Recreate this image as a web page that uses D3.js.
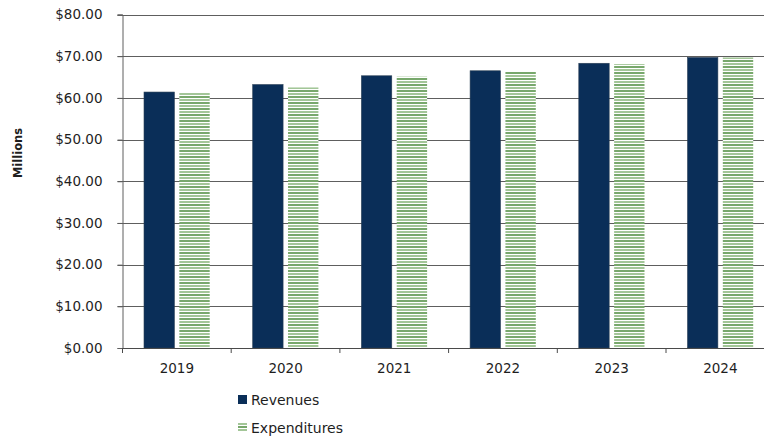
<!DOCTYPE html>
<html>
<head>
<meta charset="utf-8">
<script src="https://cdn.jsdelivr.net/npm/d3@7"></script>
<style>
  html, body { margin: 0; padding: 0; background: #fff; }
  svg { display: block; }
  text { font-family: "DejaVu Sans", Verdana, sans-serif; fill: #1e1e1e; }
</style>
</head>
<body>
<svg id="chart" width="764" height="438"></svg>
<script>
// Annual figures, in millions of dollars
const years = ["2019", "2020", "2021", "2022", "2023", "2024"];
const revenues = [61.4, 63.2, 65.3, 66.5, 68.3, 69.7];
const expenditures = [61.2, 62.5, 65.1, 66.4, 68.1, 69.7];
const seriesNames = ["Revenues", "Expenditures"];
const yTicks = [0, 10, 20, 30, 40, 50, 60, 70, 80];

(function () {
  const svg = d3.select("#chart");
  const W = 764;
  const plotLeft = 122.5, plotTop = 14.5, plotBottom = 348;
  const bandW = 108.7;
  const plotRight = plotLeft + bandW * years.length;

  // Horizontal stripe fill for the expenditures series
  const defs = svg.append("defs");
  const pat = defs.append("pattern")
    .attr("id", "stripes")
    .attr("patternUnits", "userSpaceOnUse")
    .attr("width", 6).attr("height", 6);
  pat.append("rect").attr("width", 6).attr("height", 6).attr("fill", "#ffffff");
  pat.append("rect").attr("y", 0).attr("width", 6).attr("height", 2).attr("fill", "#78a86c");
  pat.append("rect").attr("y", 3).attr("width", 6).attr("height", 2).attr("fill", "#a3c698");

  const y = d3.scaleLinear().domain([0, 80]).range([plotBottom, plotTop]);
  const x0 = d3.scaleBand().domain(years).range([plotLeft, plotRight]).paddingInner(0).paddingOuter(0);
  const x1 = d3.scaleBand().domain(seriesNames).range([21.5, bandW - 21.5]).paddingInner(0.14);

  // Gridlines
  svg.append("g")
    .selectAll("line")
    .data(yTicks.filter(d => d > 0))
    .join("line")
    .attr("x1", plotLeft - 5).attr("x2", W)
    .attr("y1", d => Math.round(y(d)) + 0.5).attr("y2", d => Math.round(y(d)) + 0.5)
    .attr("stroke", "#5e5e5e").attr("stroke-width", 1);

  // Y axis
  const yAxis = svg.append("g")
    .attr("transform", `translate(${plotLeft},0)`)
    .call(d3.axisLeft(y).tickValues(yTicks).tickSize(5).tickPadding(15)
      .tickFormat(d => "$" + d3.format(".2f")(d)));
  yAxis.select(".domain").attr("stroke", "#5e5e5e");
  yAxis.selectAll(".tick line").attr("stroke", "#5e5e5e");
  yAxis.selectAll(".tick text")
    .attr("font-size", 13.5).attr("font-family", "DejaVu Sans, sans-serif").attr("fill", "#1e1e1e");

  // Bars
  const groups = svg.append("g")
    .selectAll("g")
    .data(years.map((yr, i) => ({ yr, vals: [revenues[i], expenditures[i]] })))
    .join("g")
    .attr("transform", d => `translate(${x0(d.yr)},0)`);

  groups.selectAll("rect")
    .data(d => d.vals.map((v, j) => ({ key: seriesNames[j], v })))
    .join("rect")
    .attr("x", d => x1(d.key))
    .attr("width", x1.bandwidth())
    .attr("y", d => y(d.v))
    .attr("height", d => y(0) - y(d.v))
    .attr("fill", d => d.key === "Revenues" ? "#0a2e58" : "url(#stripes)")
    .attr("stroke", d => d.key === "Revenues" ? "#2a3f55" : "none")
    .attr("stroke-width", 0.6);

  // X axis
  const xAxis = svg.append("g")
    .attr("transform", `translate(0,${plotBottom})`)
    .call(d3.axisBottom(x0).tickSize(0).tickPadding(15));
  xAxis.select(".domain").attr("stroke", "#4a4a4a").attr("stroke-width", 1.2);
  xAxis.selectAll(".tick text")
    .attr("font-size", 13.5).attr("font-family", "DejaVu Sans, sans-serif").attr("fill", "#1e1e1e");
  // Category boundary tick marks
  svg.append("g")
    .selectAll("line")
    .data(d3.range(years.length + 1))
    .join("line")
    .attr("x1", i => plotLeft + i * bandW).attr("x2", i => plotLeft + i * bandW)
    .attr("y1", plotBottom).attr("y2", plotBottom + 5)
    .attr("stroke", "#4a4a4a");

  // Y axis title
  svg.append("text")
    .attr("transform", "translate(22,153) rotate(-90)")
    .attr("text-anchor", "middle")
    .attr("font-size", 11.5).attr("font-weight", "bold")
    .attr("fill", "#111")
    .text("Millions");

  // Legend
  const legend = svg.append("g");
  const legendRows = seriesNames.map((name, i) => ({ name, i }));
  legend.selectAll("rect")
    .data(legendRows)
    .join("rect")
    .attr("x", 238).attr("y", d => 395 + d.i * 28)
    .attr("width", 9).attr("height", 9)
    .attr("fill", d => d.i === 0 ? "#0a2e58" : "url(#stripes)");
  legend.selectAll("text")
    .data(legendRows)
    .join("text")
    .attr("x", 251).attr("y", d => 404.5 + d.i * 28)
    .attr("font-size", 14)
    .text(d => d.name);
})();
</script>
</body>
</html>
